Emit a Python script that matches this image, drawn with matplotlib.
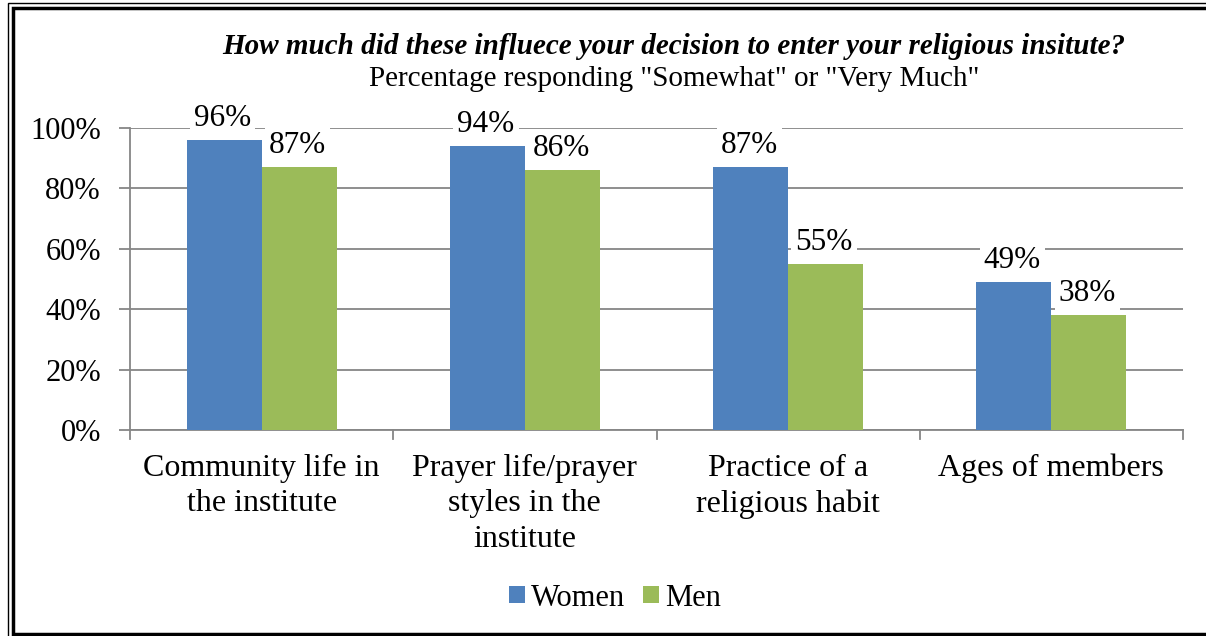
import matplotlib.pyplot as plt
import numpy as np
from matplotlib.lines import Line2D

plt.rcParams['font.family'] = ['Liberation Serif', 'DejaVu Serif']

categories = ["Community life in\nthe institute", "Prayer life/prayer\nstyles in the\ninstitute",
              "Practice of a\nreligious habit", "Ages of members"]
women = [96, 94, 87, 49]
men = [87, 86, 55, 38]

blue = '#4f81bd'
green = '#9bbb59'
grid_c = '#868686'

W, H = 1206, 636
fig = plt.figure(figsize=(W / 100, H / 100), dpi=100)
ax = fig.add_axes([130 / W, 1 - 430 / H, (1183 - 130) / W, (430 - 128) / H])

x = np.arange(len(categories))
bw = 0.285
b1 = ax.bar(x - bw / 2, women, bw, color=blue, label='Women', zorder=3)
b2 = ax.bar(x + bw / 2, men, bw, color=green, label='Men', zorder=3)

for bars in (b1, b2):
    for b in bars:
        ax.annotate(f"{b.get_height():.0f}%", (b.get_x() + b.get_width() / 2, b.get_height()),
                    xytext=(-1, 5), textcoords='offset points', ha='center', va='bottom',
                    fontsize=22.5, zorder=4,
                    bbox=dict(facecolor='white', edgecolor='none', pad=3))

ax.set_xlim(-0.5, len(categories) - 0.5)
ax.set_ylim(0, 100)
ax.set_yticks(range(0, 101, 20))
ax.set_yticklabels([f"{v}%" for v in range(0, 101, 20)], fontsize=22)
ax.yaxis.grid(True, color=grid_c, linewidth=1.3, zorder=0)
ax.set_xticks(x)
ax.set_xticklabels(categories, fontsize=23, linespacing=1.3)
ax.tick_params(axis='x', length=0, pad=17)
ax.tick_params(axis='y', length=8, width=1.3, color=grid_c, pad=13)
for t in np.arange(-0.5, len(categories), 1):
    ax.plot([t, t], [0, -3], color=grid_c, lw=1.3, clip_on=False, zorder=3)
for s in ['top', 'right']:
    ax.spines[s].set_visible(False)
for s in ['left', 'bottom']:
    ax.spines[s].set_color(grid_c)
    ax.spines[s].set_linewidth(1.3)

fig.text(674 / W, 1 - 47 / H, "How much did these influece your decision to enter your religious insitute?",
         ha='center', va='center', fontsize=21, fontweight='bold', fontstyle='italic')
fig.text(674 / W, 1 - 79 / H, 'Percentage responding "Somewhat" or "Very Much"',
         ha='center', va='center', fontsize=21)

fig.legend(handles=[b1, b2], loc='center', bbox_to_anchor=(615 / W, 1 - 598 / H), ncol=2,
           frameon=False, fontsize=22, handlelength=0.5, handleheight=0.5, handletextpad=0.2,
           columnspacing=0.6)

# double border (image is cut off on the right)
def fline(xs, ys, lw):
    fig.lines.append(Line2D([v / W for v in xs], [1 - v / H for v in ys],
                            transform=fig.transFigure, color='black', linewidth=lw,
                            solid_joinstyle='miter'))

fline([8, 8, W + 5], [H + 5, 3, 3], 1.0)
fline([W + 5, 13, 13, W + 5], [8, 8, 634, 634], 2.5)

fig.savefig('out.png', dpi=100)
